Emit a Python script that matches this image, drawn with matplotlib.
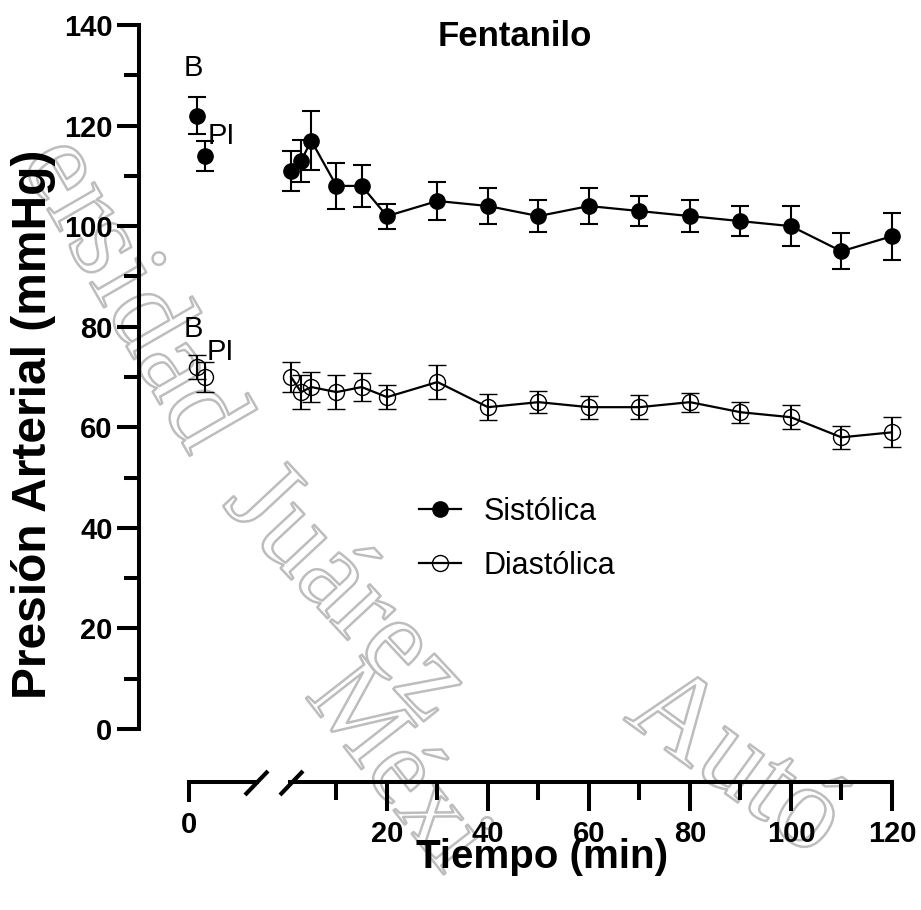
import matplotlib
matplotlib.use("Agg")
import matplotlib.pyplot as plt
from matplotlib.lines import Line2D
import matplotlib.patheffects as pe

plt.rcParams['font.family'] = ['Liberation Sans', 'DejaVu Sans']

# ---------------- data ----------------
base_labels = ["B", "PI"]
base_x = [1, 2]                      # positions in the left (baseline) segment
sis_base = [122, 114]
sis_base_err = [3.7, 3.0]
dia_base = [72, 70]
dia_base_err = [2.4, 3.0]

time_min = [1, 3, 5, 10, 15, 20, 30, 40, 50, 60, 70, 80, 90, 100, 110, 120]
sistolica = [111, 113, 117, 108, 108, 102, 105, 104, 102, 104, 103, 102, 101, 100, 95, 98]
sistolica_err = [4.0, 4.2, 5.8, 4.6, 4.1, 2.5, 3.8, 3.6, 3.2, 3.5, 3.0, 3.2, 3.0, 4.0, 3.6, 4.7]
diastolica = [70, 67, 68, 67, 68, 66, 69, 64, 65, 64, 64, 65, 63, 62, 58, 59]
diastolica_err = [3.0, 3.3, 3.0, 3.4, 2.8, 2.4, 3.3, 2.6, 2.2, 2.3, 2.4, 1.9, 2.1, 2.4, 2.3, 3.0]

yticks = [0, 20, 40, 60, 80, 100, 120, 140]
xticks = [20, 40, 60, 80, 100, 120]
xminor = [10, 30, 50, 70, 90, 110]

W, H = 921, 910
fig = plt.figure(figsize=(W / 100, H / 100), dpi=100)

def fx(px):
    return px / W

def fy(py):
    return 1 - py / H

y_top, y_bot = 25, 729
ax_l = fig.add_axes([fx(139), fy(y_bot), fx(257) - fx(139), fy(y_top) - fy(y_bot)])
ax_r = fig.add_axes([fx(286), fy(y_bot), fx(897) - fx(286), fy(y_top) - fy(y_bot)], sharey=ax_l)
for ax in (ax_l, ax_r):
    ax.patch.set_alpha(0)
    ax.set_ylim(0, 140)
    for s in ("top", "right"):
        ax.spines[s].set_visible(False)
    ax.spines["bottom"].set_position(("outward", 38.2))
    ax.spines["bottom"].set_linewidth(2.9)
    ax.spines["left"].set_linewidth(2.9)

ax_l.set_xlim(-6.25, 8.5)
ax_r.set_xlim(0, 121)

# left axis (y)
ax_l.spines["left"].set_bounds(0, 140)
ax_l.spines["bottom"].set_bounds(0, 8.5)
ax_l.set_yticks(yticks)
ax_l.set_yticks([10, 30, 50, 70, 90, 110, 130], minor=True)
ax_l.set_xticks([0])
ax_l.set_xticklabels(["0"])
ax_l.tick_params(axis="y", which="major", length=16, width=2.9, labelsize=21, pad=3)
ax_l.tick_params(axis="y", which="minor", length=11, width=2.9)
ax_l.tick_params(axis="x", which="major", length=14.5, width=2.9, labelsize=21, pad=6)
for t in ax_l.get_yticklabels() + ax_l.get_xticklabels():
    t.set_fontweight("bold")

# right axis
ax_r.spines["left"].set_visible(False)
ax_r.spines["bottom"].set_bounds(0.8, 120)
ax_r.tick_params(axis="y", which="both", left=False, labelleft=False)
ax_r.set_xticks(xticks)
ax_r.set_xticks(xminor, minor=True)
ax_r.tick_params(axis="x", which="major", length=21, width=2.9, labelsize=21, pad=6)
ax_r.tick_params(axis="x", which="minor", length=13, width=2.9)
for t in ax_r.get_xticklabels():
    t.set_fontweight("bold")

ekw = dict(elinewidth=1.5, capsize=6.5, capthick=1.5, ecolor="black")

# baseline points
ax_l.errorbar(base_x, sis_base, yerr=sis_base_err, fmt="o", color="black",
              ms=11, clip_on=False, zorder=3, **ekw)
ax_l.errorbar(base_x, dia_base, yerr=dia_base_err, fmt="o", mfc="none", mec="black",
              mew=1.0, ms=11.5, clip_on=False, zorder=3, **ekw)

ax_l.text(0.5, 131.5, base_labels[0], ha="center", va="center", fontsize=21)
ax_l.text(4.0, 118, base_labels[1], ha="center", va="center", fontsize=21)
ax_l.text(0.5, 79.5, base_labels[0], ha="center", va="center", fontsize=21)
ax_l.text(3.9, 75, base_labels[1], ha="center", va="center", fontsize=21)

# time series
ax_r.errorbar(time_min, sistolica, yerr=sistolica_err, fmt="-o", color="black",
              lw=1.6, ms=11, clip_on=False, zorder=3, label="Sistólica", **ekw)
ax_r.errorbar(time_min, diastolica, yerr=diastolica_err, fmt="-o", color="black",
              mfc="none", mec="black", mew=1.0, lw=1.6, ms=11.5, clip_on=False,
              zorder=3, label="Diastólica", **ekw)

handles = [Line2D([], [], color="black", marker="o", ms=11, lw=1.6),
           Line2D([], [], color="black", marker="o", mfc="none", ms=11.5, mew=1.0, lw=1.6)]
fig.legend(handles, ["Sistólica", "Diastólica"], loc="upper left",
           bbox_to_anchor=(fx(419), fy(497)), frameon=False, fontsize=22,
           handlelength=1.37, handletextpad=0.75, labelspacing=0.78, borderpad=0,
           borderaxespad=0)

# axis break marks
for x0 in (245, 280):
    fig.add_artist(Line2D([fx(x0), fx(x0 + 23)], [fy(795), fy(771)], color="black",
                          lw=3.0, solid_capstyle="butt"))

# labels
fig.text(fx(515), fy(37), "Fentanilo", ha="center", va="center", fontsize=25, fontweight="bold")
fig.text(fx(34), fy(424), "Presión Arterial (mmHg)", ha="center", va="center",
         rotation=90, fontsize=34.5, fontweight="bold")
fig.text(fx(542), fy(857), "Tiempo (min)", ha="center", va="center", fontsize=29,
         fontweight="bold")

# watermark (faint, behind the plot)
wm_kw = dict(ha="center", va="center", family="Liberation Serif",
             color=(1, 1, 1, 0), zorder=-5,
             path_effects=[pe.withStroke(linewidth=1.8, foreground="#bdbdbd")])
fig.text(fx(130), fy(295), "ersidad", rotation=-60, fontsize=85, **wm_kw)
fig.text(fx(345), fy(595), "Juárez", rotation=-47, fontsize=85, **wm_kw)
fig.text(fx(735), fy(765), "Autó", rotation=-36, fontsize=85, **wm_kw)
fig.text(fx(395), fy(770), "Méxi", rotation=-52, fontsize=78, **wm_kw)

fig.savefig("out.png", dpi=100)
